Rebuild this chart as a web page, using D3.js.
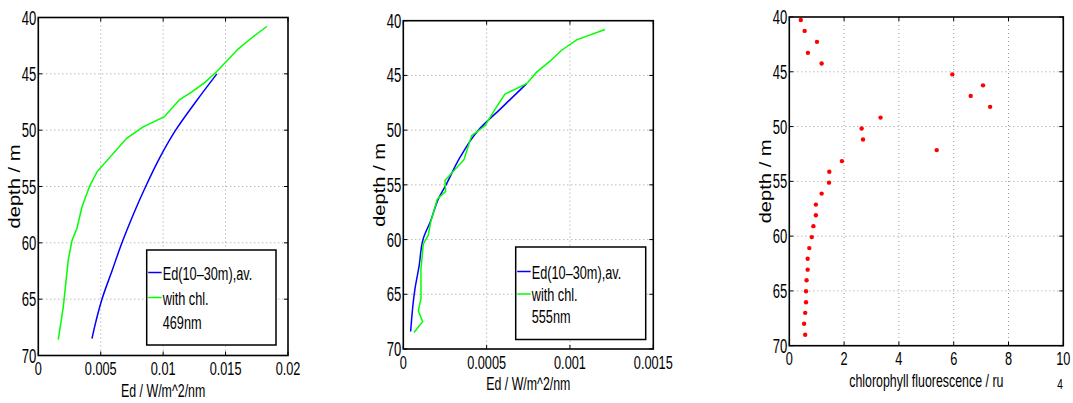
<!DOCTYPE html>
<html>
<head>
<meta charset="utf-8">
<script src="https://cdn.jsdelivr.net/npm/d3@7"></script>
<style>
  body { margin: 0; background: #fff; }
  text { font-family: "Liberation Sans", Arial, sans-serif; fill: #000; }
</style>
</head>
<body>
<script>
// depth ticks shared by all three panels
var depthTicks = [40, 45, 50, 55, 60, 65, 70];

// 469nm panel
var blue469Depth = [45, 47.5, 50, 52.5, 55, 57.5, 60, 62.5, 65, 67.5, 68.5];
var blue469Ed = [0.0143, 0.0126, 0.0110, 0.0097, 0.0086, 0.0076, 0.0067, 0.0059, 0.0051, 0.0045, 0.0043];
var green469Depth = [40.8, 41.8, 42.8, 44.8, 45.8, 46.6, 47.3, 48.8, 49.7, 50.7, 53.7, 55.0, 56.2, 56.8, 58.7, 59.8, 61.5, 65.7, 68.6];
var green469Ed = [0.0183, 0.0171, 0.0160, 0.0143, 0.0133, 0.0123, 0.0113, 0.0101, 0.0084, 0.0071, 0.0047, 0.0041, 0.0037, 0.0035, 0.0031, 0.0027, 0.0024, 0.0020, 0.0016];
var ticks469 = [0, 0.005, 0.01, 0.015, 0.02];
var tickLabels469 = ["0", "0.005", "0.01", "0.015", "0.02"];

// 555nm panel
var blue555Depth = [45.75, 48.1, 50, 52.5, 55, 56.3, 58.3, 59.9, 62.5, 64.5, 68.4];
var blue555Ed = [0.00074, 0.00058, 0.00045, 0.00034, 0.000256, 0.00021, 0.000164, 0.00012, 0.000094, 0.00007, 0.000044];
var green555Depth = [40.8, 41.75, 42.7, 43.7, 44.7, 45.75, 46.7, 48.1, 49.6, 50.5, 52.7, 54.6, 55.6, 56.3, 58.4, 59.6, 60.4, 62.7, 65.4, 66.5, 67.5, 68.5];
var green555Ed = [0.00121, 0.00104, 0.00095, 0.00088, 0.00080, 0.00074, 0.00061, 0.00055, 0.00049, 0.00041, 0.000364, 0.00025, 0.000254, 0.000204, 0.000164, 0.00015, 0.00012, 0.000106, 0.000106, 0.00009, 0.000116, 0.000064];
var ticks555 = [0, 0.0005, 0.001, 0.0015];
var tickLabels555 = ["0", "0.0005", "0.001", "0.0015"];

// chlorophyll panel
var chlDepth = [40.27, 41.27, 42.27, 43.27, 44.24, 45.24, 46.24, 47.2, 48.2, 49.18, 50.18, 51.18, 52.15, 53.15, 54.12, 55.12, 56.12, 57.12, 58.09, 59.09, 60.09, 61.09, 62.06, 63.06, 64.03, 65.03, 66.03, 67.0, 68.0, 69.0];
var chlFluor = [0.42, 0.56, 1.01, 0.68, 1.18, 5.95, 7.07, 6.62, 7.33, 3.33, 2.64, 2.69, 5.38, 1.92, 1.46, 1.45, 1.18, 0.97, 0.97, 0.88, 0.82, 0.73, 0.67, 0.67, 0.63, 0.61, 0.61, 0.58, 0.54, 0.58];
var chlTicks = [0, 2, 4, 6, 8, 10];
var chlTickLabels = ["0", "2", "4", "6", "8", "10"];

// the original picture is squeezed sideways: narrow text across, long text upright
var SX = 0.67;
var SROT = 1.26;

var svg = d3.select("body").append("svg")
    .attr("width", 1073)
    .attr("height", 403);

function txt(g, x, y, s, size, anchor, rot, sx) {
  g.append("text")
    .attr("transform", "translate(" + x + "," + y + ")" + (rot ? " rotate(" + rot + ")" : "") + " scale(" + (sx || SX) + ",1)")
    .attr("text-anchor", anchor || "start")
    .attr("font-size", size)
    .text(s);
}

function panel(box, xDomain, xTicks, xTickLabels, xLabel) {
  var x = d3.scaleLinear().domain(xDomain).range([box.left, box.right]);
  var y = d3.scaleLinear().domain([40, 70]).range([box.top, box.bottom]);
  var g = svg.append("g");

  // dotted grid
  g.selectAll(".gx").data(xTicks.slice(1, -1)).enter().append("line")
    .attr("x1", function(d) { return x(d); }).attr("x2", function(d) { return x(d); })
    .attr("y1", box.top).attr("y2", box.bottom)
    .attr("stroke", "#999").attr("stroke-dasharray", "1,3");
  g.selectAll(".gy").data(depthTicks.slice(1, -1)).enter().append("line")
    .attr("y1", function(d) { return y(d); }).attr("y2", function(d) { return y(d); })
    .attr("x1", box.left).attr("x2", box.right)
    .attr("stroke", "#999").attr("stroke-dasharray", "1,3");

  // inward ticks
  xTicks.forEach(function(d) {
    g.append("line").attr("x1", x(d)).attr("x2", x(d)).attr("y1", box.bottom).attr("y2", box.bottom - 4).attr("stroke", "#000");
    g.append("line").attr("x1", x(d)).attr("x2", x(d)).attr("y1", box.top).attr("y2", box.top + 4).attr("stroke", "#000");
  });
  depthTicks.forEach(function(d) {
    g.append("line").attr("y1", y(d)).attr("y2", y(d)).attr("x1", box.left).attr("x2", box.left + 4).attr("stroke", "#000");
    g.append("line").attr("y1", y(d)).attr("y2", y(d)).attr("x1", box.right).attr("x2", box.right - 4).attr("stroke", "#000");
    txt(g, box.left - 2, y(d) + 7, String(d), 19.5, "end");
  });
  xTicks.forEach(function(d, i) {
    txt(g, x(d), box.bottom + 19.5, xTickLabels[i], 19, "middle");
  });

  txt(g, (box.left + box.right) / 2, box.bottom + 41, xLabel, 18.5, "middle");
  txt(g, box.left - 18, (box.top + box.bottom) / 2, "depth / m", 16, "middle", -90, SROT);

  return {g: g, x: x, y: y};
}

function frame(p, box) {
  p.g.append("rect")
    .attr("x", box.left).attr("y", box.top)
    .attr("width", box.right - box.left).attr("height", box.bottom - box.top)
    .attr("fill", "none").attr("stroke", "#000").attr("stroke-width", 1.6);
}

function profile(p, ed, depth, color, smooth) {
  var line = d3.line()
    .x(function(d) { return p.x(d[0]); })
    .y(function(d) { return p.y(d[1]); });
  if (smooth) line.curve(d3.curveMonotoneY);
  p.g.append("path")
    .datum(d3.zip(ed, depth))
    .attr("d", line)
    .attr("fill", "none")
    .attr("stroke", color)
    .attr("stroke-width", 1.5);
}

function legend(p, lb, rows, wavelength) {
  p.g.append("rect")
    .attr("x", lb.x).attr("y", lb.y).attr("width", lb.w).attr("height", lb.h)
    .attr("fill", "#fff").attr("stroke", "#000").attr("stroke-width", 1.5);
  var items = [["Ed(10\u201330m),av.", "#0000ff"], ["with chl.", "#00ff00"]];
  items.forEach(function(it, i) {
    var yy = lb.y + lb.first + i * rows;
    p.g.append("line")
      .attr("x1", lb.x + 1.5).attr("x2", lb.x + 15)
      .attr("y1", yy).attr("y2", yy)
      .attr("stroke", it[1]).attr("stroke-width", 1.5);
    txt(p.g, lb.x + 16, yy + 7, it[0], 19, "start");
  });
  txt(p.g, lb.x + 16, lb.y + lb.first + 2 * rows + 6, wavelength, 19, "start");
}

// panel 1: 469nm
var box1 = {left: 38.3, right: 288, top: 17.5, bottom: 355.5};
var p1 = panel(box1, [0, 0.02], ticks469, tickLabels469, "Ed / W/m^2/nm");
profile(p1, blue469Ed, blue469Depth, "#0000ff", true);
profile(p1, green469Ed, green469Depth, "#00ff00");
legend(p1, {x: 146.7, y: 250, w: 129.3, h: 95, first: 22.5}, 25, "469nm");
frame(p1, box1);

// panel 2: 555nm
var box2 = {left: 403.3, right: 653.3, top: 20.7, bottom: 349};
var p2 = panel(box2, [0, 0.0015], ticks555, tickLabels555, "Ed / W/m^2/nm");
profile(p2, blue555Ed, blue555Depth, "#0000ff", true);
profile(p2, green555Ed, green555Depth, "#00ff00");
legend(p2, {x: 515.7, y: 247, w: 130, h: 92.5, first: 24.5}, 22.5, "555nm");
frame(p2, box2);

// panel 3: chlorophyll fluorescence
var box3 = {left: 789.3, right: 1063.3, top: 17, bottom: 345.7};
var p3 = panel(box3, [0, 10], chlTicks, chlTickLabels, "chlorophyll fluorescence / ru");
p3.g.selectAll(".dot")
  .data(d3.zip(chlFluor, chlDepth))
  .enter().append("circle")
    .attr("cx", function(d) { return p3.x(d[0]); })
    .attr("cy", function(d) { return p3.y(d[1]); })
    .attr("r", 2.2)
    .attr("fill", "#ff0000");
frame(p3, box3);
txt(svg, 1060, 389, "4", 15, "middle");
</script>
</body>
</html>
